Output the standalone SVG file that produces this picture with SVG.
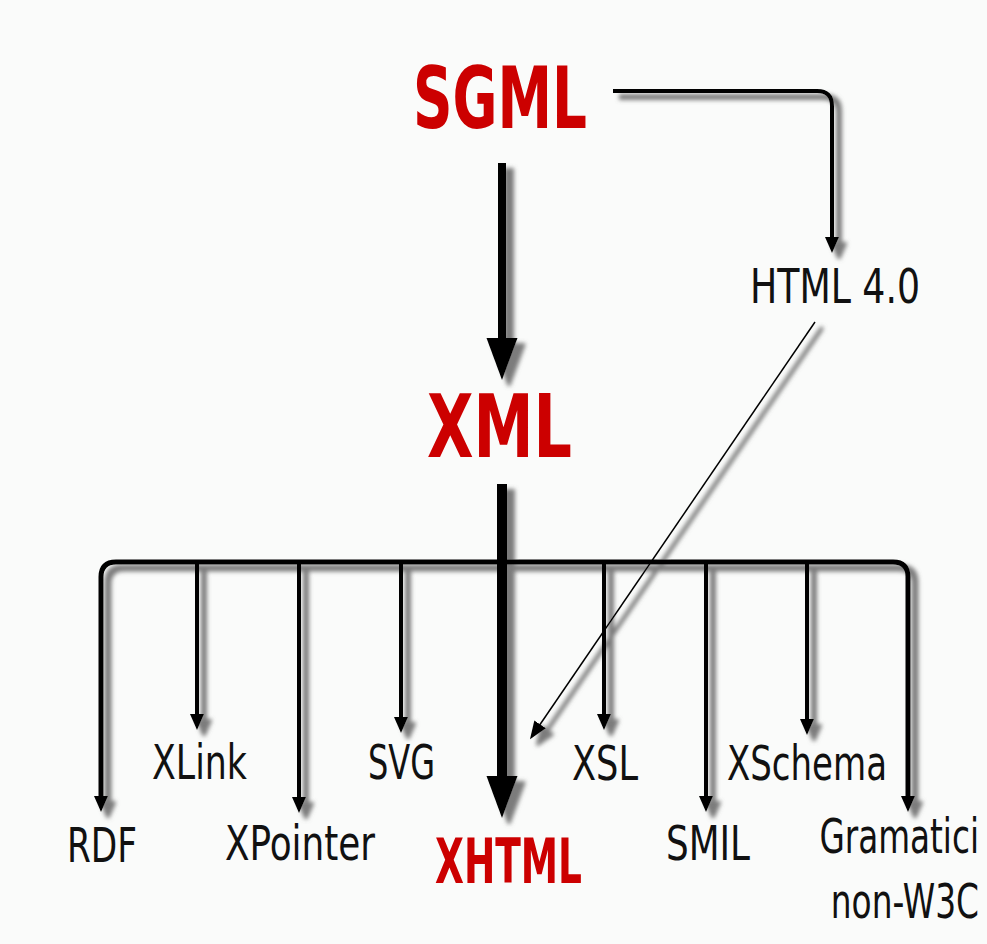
<svg xmlns="http://www.w3.org/2000/svg" width="987" height="944" viewBox="0 0 987 944">
  <style>
    .major { font-family: "DejaVu Sans", "Liberation Sans", sans-serif; font-weight: bold; fill: #cc0000; }
    .minor { font-family: "DejaVu Sans Condensed", "DejaVu Sans", "Liberation Sans", sans-serif; font-size: 48px; fill: #111; }
    .wire { fill: none; stroke: #000; stroke-linejoin: round; }
  </style>
  <defs>
    <!-- soft grey drop shadow used under all connectors -->
    <filter id="drop" filterUnits="userSpaceOnUse" x="0" y="0" width="987" height="944">
      <feMorphology in="SourceAlpha" operator="dilate" radius="1" result="d"/>
      <feGaussianBlur in="d" stdDeviation="2.2" result="b"/>
      <feOffset in="b" dx="7" dy="6" result="o"/>
      <feFlood flood-color="#6e6e6e" flood-opacity="0.9"/>
      <feComposite in2="o" operator="in" result="s"/>
      <feMerge>
        <feMergeNode in="s"/>
        <feMergeNode in="SourceGraphic"/>
      </feMerge>
    </filter>
    <marker id="tip" markerUnits="userSpaceOnUse" viewBox="0 -7 16 14" refX="4" refY="0" markerWidth="16" markerHeight="14" orient="auto">
      <path d="M0,-7 L16,0 L0,7 z" fill="#000"/>
    </marker>
    <marker id="tipThin" markerUnits="userSpaceOnUse" viewBox="0 -7 18 14" refX="2" refY="0" markerWidth="18" markerHeight="14" orient="auto">
      <path d="M0,-7 L18,0 L0,7 z" fill="#000"/>
    </marker>
    <marker id="tipBig" markerUnits="userSpaceOnUse" viewBox="0 -16 42 32" refX="2" refY="0" markerWidth="42" markerHeight="32" orient="auto">
      <path d="M0,-15.5 L42,0 L0,15.5 z" fill="#000"/>
    </marker>
  </defs>

  <rect width="987" height="944" fill="#fafbfa"/>

  <g id="connectors" filter="url(#drop)">
    <!-- SGML to HTML 4.0 -->
    <path class="wire" stroke-width="4" d="M613,91 H817 Q832,91 832,106 V241" marker-end="url(#tip)"/>
    <!-- SGML to XML -->
    <path class="wire" stroke-width="8" d="M502,163 V340" marker-end="url(#tipBig)"/>
    <!-- XML to XHTML -->
    <path class="wire" stroke-width="10" d="M502,484 V778" marker-end="url(#tipBig)"/>
    <!-- distribution bus -->
    <path class="wire" stroke-width="5" d="M502,562 H116 Q101,562 101,577 V800" marker-end="url(#tip)"/>
    <path class="wire" stroke-width="5" d="M502,562 H893 Q908,562 908,577 V800" marker-end="url(#tip)"/>
    <!-- branches -->
    <path class="wire" stroke-width="4" d="M197,562 V718" marker-end="url(#tip)"/>
    <path class="wire" stroke-width="4" d="M299,562 V801" marker-end="url(#tip)"/>
    <path class="wire" stroke-width="4" d="M401,562 V721" marker-end="url(#tip)"/>
    <path class="wire" stroke-width="4" d="M604,562 V718" marker-end="url(#tip)"/>
    <path class="wire" stroke-width="4" d="M706,562 V800" marker-end="url(#tip)"/>
    <path class="wire" stroke-width="4" d="M807,562 V723" marker-end="url(#tip)"/>
    <!-- HTML 4.0 to XHTML -->
    <path class="wire" stroke-width="1.5" d="M815,322 L539,726" marker-end="url(#tipThin)"/>
  </g>

  <g id="sgml"><text class="major" x="413" y="128" font-size="86" textLength="174" lengthAdjust="spacingAndGlyphs">SGML</text></g>
  <g id="xml"><text class="major" x="427" y="457" font-size="88" textLength="145" lengthAdjust="spacingAndGlyphs">XML</text></g>
  <g id="xhtml"><text class="major" x="435" y="883" font-size="62" textLength="147" lengthAdjust="spacingAndGlyphs">XHTML</text></g>
  <g id="html40"><text class="minor" x="750" y="303" textLength="170" lengthAdjust="spacingAndGlyphs">HTML 4.0</text></g>
  <g id="rdf"><text class="minor" x="67" y="862" textLength="70" lengthAdjust="spacingAndGlyphs">RDF</text></g>
  <g id="xlink"><text class="minor" x="152" y="779" textLength="95" lengthAdjust="spacingAndGlyphs">XLink</text></g>
  <g id="xpointer"><text class="minor" x="225" y="860" textLength="150" lengthAdjust="spacingAndGlyphs">XPointer</text></g>
  <g id="svg"><text class="minor" x="368" y="779" textLength="67" lengthAdjust="spacingAndGlyphs">SVG</text></g>
  <g id="xsl"><text class="minor" x="572" y="780" textLength="66" lengthAdjust="spacingAndGlyphs">XSL</text></g>
  <g id="smil"><text class="minor" x="666" y="860" textLength="84" lengthAdjust="spacingAndGlyphs">SMIL</text></g>
  <g id="xschema"><text class="minor" x="727" y="780" textLength="160" lengthAdjust="spacingAndGlyphs">XSchema</text></g>
  <!-- horizontally squeezed so the two-line label stays inside the right margin -->
  <g id="gramatici">
    <text class="minor" transform="translate(979,853) scale(0.76,1)" x="0" y="0" text-anchor="end" textLength="210" lengthAdjust="spacingAndGlyphs">Gramatici</text>
    <text class="minor" transform="translate(979,918) scale(0.76,1)" x="0" y="0" text-anchor="end" textLength="195" lengthAdjust="spacingAndGlyphs">non-W3C</text>
  </g>
</svg>
